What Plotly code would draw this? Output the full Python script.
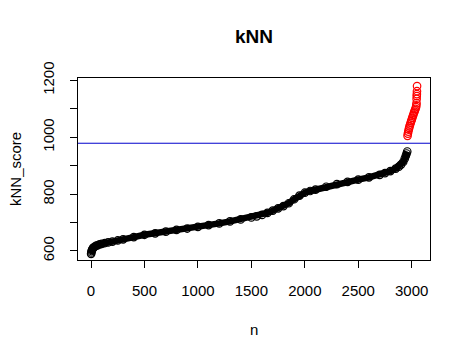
import plotly.graph_objects as go

# sorted kNN scores (black: below threshold, red: above threshold)
black_n = [1, 3, 6, 10, 15, 20, 30, 45, 60, 80, 100, 130, 160, 200, 250, 300, 400, 500,
           600, 700, 800, 900, 1000, 1100, 1200, 1300, 1400, 1500, 1550, 1600, 1650, 1700,
           1750, 1800, 1850, 1900, 1950, 2000, 2050, 2100, 2200, 2300, 2400, 2500, 2600,
           2700, 2750, 2800, 2850, 2880, 2900, 2920, 2935, 2945, 2952, 2958]
black_score = [590, 595, 600, 604, 608, 611, 614, 618, 620, 623, 625, 628, 630, 633, 637, 641,
               649, 657, 662, 668, 674, 679, 685, 691, 697, 704, 711, 718, 722, 727, 734, 742,
               750, 758, 768, 782, 795, 805, 811, 816, 826, 835, 843, 851, 859, 868, 874, 881,
               890, 897, 904, 913, 925, 935, 943, 950]
red_n = [2961, 2964, 2968, 2972, 2976, 2980, 2985, 2990, 2995, 3000, 3005, 3010, 3015, 3020,
         3025, 3030, 3035, 3040, 3043, 3045, 3046, 3047, 3048, 3049, 3050]
red_score = [1005, 1013, 1020, 1027, 1033, 1039, 1045, 1051, 1057, 1062, 1068, 1074, 1079,
             1085, 1090, 1095, 1100, 1106, 1112, 1120, 1135, 1145, 1152, 1162, 1180]
threshold = 979

x_ticks = [0, 500, 1000, 1500, 2000, 2500, 3000]
y_ticks = [600, 700, 800, 900, 1000, 1100, 1200]
y_labels = ["600", "", "800", "", "1000", "", "1200"]

FONT = "Liberation Sans, Arial, sans-serif"
W, H = 463, 350  # page body has an 8px margin

fig = go.Figure()
fig.add_trace(go.Scatter(
    x=black_n, y=black_score, mode="lines+markers",
    line=dict(color="black", width=6.5),
    marker=dict(symbol="circle-open", size=7.5, color="black", line=dict(width=1.2)),
    showlegend=False, hoverinfo="skip"))
fig.add_trace(go.Scatter(
    x=red_n, y=red_score, mode="markers",
    marker=dict(symbol="circle-open", size=7.5, color="red", line=dict(width=1.2)),
    showlegend=False, hoverinfo="skip"))

fig.add_shape(type="line", xref="paper", x0=0, x1=1, yref="y", y0=threshold, y1=threshold,
              line=dict(color="#0000cc", width=1))

axis_common = dict(showgrid=False, zeroline=False, showline=True, mirror=True,
                   linecolor="black", linewidth=1, ticks="outside", ticklen=7,
                   tickwidth=1, tickcolor="black",
                   tickfont=dict(family=FONT, size=15, color="black"))

fig.update_xaxes(range=[-121.7, 3171], tickvals=x_ticks,
                 ticktext=[str(v) for v in x_ticks], ticklabelstandoff=10, **axis_common)
fig.update_yaxes(range=[568.3, 1208.5], tickvals=y_ticks, ticktext=y_labels,
                 tickangle=-90, ticklabelstandoff=10, **axis_common)

fig.add_annotation(text="n", xref="paper", yref="paper", x=0.5, y=(260 - 329) / 182,
                   xanchor="center", yanchor="middle", showarrow=False,
                   font=dict(family=FONT, size=15, color="black"))
fig.add_annotation(text="kNN_score", xref="paper", yref="paper", x=(15 - 78) / 352, y=0.5,
                   xanchor="center", yanchor="middle", showarrow=False, textangle=-90,
                   font=dict(family=FONT, size=15, color="black"))

fig.update_layout(
    width=W, height=H,
    margin=dict(l=70, r=W - 422, t=70, b=H - 252),
    paper_bgcolor="white", plot_bgcolor="white",
    title=dict(text="<b>kNN</b>", xref="paper", x=0.5, xanchor="center",
               yref="container", y=1 - 28 / H, yanchor="middle",
               font=dict(family=FONT, size=19, color="black")),
)

fig.write_html("out.html")
